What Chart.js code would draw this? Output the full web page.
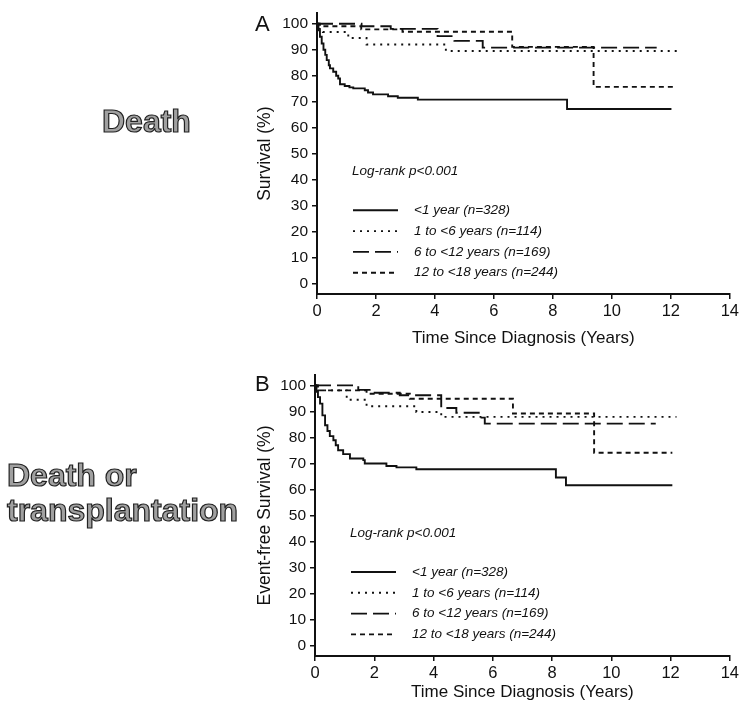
<!DOCTYPE html>
<html><head><meta charset="utf-8">
<script src="https://cdn.jsdelivr.net/npm/chart.js@4.4.1/dist/chart.umd.min.js"></script>
<style>
body{margin:0;background:#fff;}
#wrap{position:relative;width:742px;height:713px;overflow:hidden;font-family:"Liberation Sans",Arial,sans-serif;}
canvas{position:absolute;left:0;}
.big{position:absolute;font-weight:bold;font-size:32px;line-height:35px;color:#a0a0a0;-webkit-text-stroke:1.2px #222;white-space:nowrap;}
.panel{position:absolute;font-size:22px;line-height:22px;color:#111;}
</style></head>
<body><div id="wrap">
<canvas id="cA" width="742" height="356" style="top:0"></canvas>
<canvas id="cB" width="742" height="357" style="top:356px"></canvas>
<div class="big" style="left:102px;top:104px">Death</div>
<div class="big" style="left:7px;top:458px">Death or<br>transplantation</div>
<div class="panel" style="left:255px;top:13px">A</div>
<div class="panel" style="left:255px;top:373px">B</div>
</div>
<script>
// ---- data (survival %, time in years) ----
const seriesLabels = ['<1 year (n=328)', '1 to <6 years (n=114)', '6 to <12 years (n=169)', '12 to <18 years (n=244)'];
const logRankText = 'Log-rank p<0.001';
const xTitle = 'Time Since Diagnosis (Years)';
const yTitleA = 'Survival (%)';
const yTitleB = 'Event-free Survival (%)';

// Panel A: Death
const deathT_lt1 = [0, 0.05, 0.1, 0.16, 0.22, 0.28, 0.33, 0.4, 0.44, 0.55, 0.65, 0.72, 0.78, 0.94, 1.1, 1.23, 1.62, 1.73, 1.9, 2.41, 2.74, 3.42, 8.48, 12.02];
const deathS_lt1 = [100, 97.5, 95, 92.4, 90, 88, 86, 84, 82.8, 81.5, 80, 78.9, 76.7, 76, 75.5, 75.1, 74.4, 73.5, 72.8, 72.1, 71.5, 70.8, 67.2, 67.2];
const deathT_1to6 = [0, 0.05, 0.2, 1.06, 1.68, 4.37, 12.2];
const deathS_1to6 = [100, 98, 96.8, 94.5, 92, 89.5, 89.5];
const deathT_6to12 = [0, 1.51, 2.5, 4.09, 4.66, 5.62, 11.52];
const deathS_6to12 = [100, 99, 98, 95.2, 93.4, 90.8, 90.8];
const deathT_12to18 = [0, 0.1, 1.5, 2.9, 6.62, 9.38, 12.09];
const deathS_12to18 = [100, 99, 97.8, 96.9, 91.1, 75.7, 75.7];

// Panel B: Death or transplantation
const dtxT_lt1 = [0, 0.05, 0.1, 0.17, 0.25, 0.34, 0.42, 0.5, 0.62, 0.7, 0.78, 0.95, 1.18, 1.63, 1.68, 2.41, 2.75, 3.42, 8.13, 8.47, 12.06];
const dtxS_lt1 = [100, 97.5, 95.5, 93, 88.5, 84.7, 82.5, 80.5, 78.9, 77, 75.1, 73.6, 71.9, 71.3, 70, 69, 68.5, 67.8, 64.6, 61.6, 61.6];
const dtxT_1to6 = [0, 0.08, 1.07, 1.74, 3.42, 4.26, 12.2];
const dtxS_1to6 = [100, 98.1, 94.5, 92, 89.8, 87.9, 87.9];
const dtxT_6to12 = [0, 1.46, 1.9, 2.86, 4.26, 4.77, 5.62, 5.73, 11.5];
const dtxS_6to12 = [100, 98.3, 97.2, 96.2, 91.3, 89.5, 87.6, 85.3, 85.3];
const dtxT_12to18 = [0, 0.1, 1.74, 3.2, 6.68, 9.42, 12.06];
const dtxS_12to18 = [100, 98.1, 96.8, 94.9, 89.2, 74.1, 74.1];

// ---- styles ----
const FONT = '"Liberation Sans", Arial, sans-serif';
const lineDashes = [[], [2, 5], [16, 6], [5, 4]];
const INK = '#111';

function km(t, s) { return t.map((x, i) => ({x: x, y: s[i]})); }

function makeDatasets(pairs) {
  return pairs.map((p, i) => ({
    label: seriesLabels[i],
    data: km(p[0], p[1]),
    borderColor: INK,
    borderWidth: 1.9,
    borderDash: lineDashes[i],
    stepped: 'before',
    pointRadius: 0,
    fill: false,
    tension: 0
  }));
}

const kmLegend = {
  id: 'kmLegend',
  afterDatasetsDraw(chart) {
    const ctx = chart.ctx, a = chart.chartArea;
    ctx.save();
    ctx.fillStyle = INK;
    ctx.font = 'italic 13.5px ' + FONT;
    ctx.textBaseline = 'middle';
    ctx.textAlign = 'left';
    ctx.fillText(logRankText, a.left + 35, a.top + 158);
    chart.data.datasets.forEach((ds, i) => {
      const y = a.top + 197 + i * 20.8;
      ctx.strokeStyle = ds.borderColor;
      ctx.lineWidth = ds.borderWidth;
      ctx.setLineDash(ds.borderDash || []);
      ctx.beginPath(); ctx.moveTo(a.left + 36, y); ctx.lineTo(a.left + 81, y); ctx.stroke();
      ctx.setLineDash([]);
      ctx.fillText(ds.label, a.left + 97, y);
    });
    ctx.restore();
  }
};

function makeChart(id, datasets, yTitle, g) {
  return new Chart(document.getElementById(id), {
    type: 'line',
    data: {datasets: datasets},
    plugins: [kmLegend],
    options: {
      responsive: false,
      animation: false,
      layout: {padding: {left: 240, right: g.right, top: g.top, bottom: 0}},
      plugins: {legend: {display: false}, tooltip: {enabled: false}},
      scales: {
        x: {
          type: 'linear', min: 0, max: 14,
          ticks: {stepSize: 2, color: INK, font: {family: FONT, size: 16.5}, padding: 3, maxRotation: 0},
          grid: {display: true, drawOnChartArea: false, drawTicks: true, tickLength: 5, color: INK, lineWidth: 1.5},
          border: {display: true, color: INK, width: 2},
          title: {display: true, text: xTitle, color: INK, font: {family: FONT, size: 17}, padding: {top: 0, bottom: g.xTitlePad}},
          afterFit: s => { s.height = g.xHeight; }
        },
        y: {
          type: 'linear', min: -4, max: 104,
          ticks: {stepSize: 10, includeBounds: false, color: INK, font: {family: FONT, size: 15.5}, padding: 4},
          grid: {display: true, drawOnChartArea: false, drawTicks: true, tickLength: 5, color: INK, lineWidth: 1.5},
          border: {display: true, color: INK, width: 2},
          title: {display: true, text: yTitle, color: INK, font: {family: FONT, size: 17.5}, padding: {top: 14.5, bottom: 0}},
          afterFit: s => { s.width = g.yWidth; }
        }
      }
    }
  });
}

makeChart('cA', makeDatasets([
  [deathT_lt1, deathS_lt1], [deathT_1to6, deathS_1to6], [deathT_6to12, deathS_6to12], [deathT_12to18, deathS_12to18]
]), yTitleA, {right: 10, top: 13, yWidth: 77, xHeight: 62, xTitlePad: 7.8});

makeChart('cB', makeDatasets([
  [dtxT_lt1, dtxS_lt1], [dtxT_1to6, dtxS_1to6], [dtxT_6to12, dtxS_6to12], [dtxT_12to18, dtxS_12to18]
]), yTitleB, {right: 11, top: 19, yWidth: 75, xHeight: 57, xTitlePad: 10.8});
</script>
</body></html>
